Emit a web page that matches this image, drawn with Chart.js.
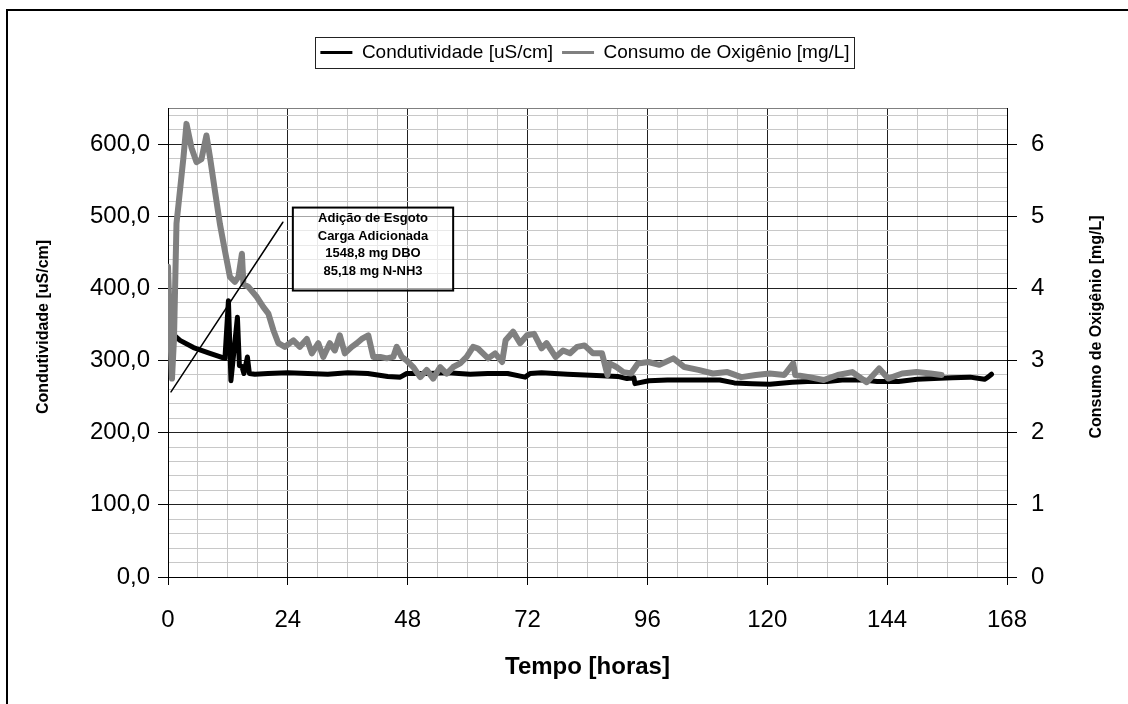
<!DOCTYPE html>
<html>
<head>
<meta charset="utf-8">
<script src="https://cdn.jsdelivr.net/npm/chart.js@4.4.1/dist/chart.umd.min.js"></script>
<style>
  html, body { margin: 0; padding: 0; background: #fff; overflow: hidden; }
  #wrap { width: 1128px; height: 704px; overflow: hidden; }
</style>
</head>
<body>
<div id="wrap"><canvas id="chart" width="1170" height="704"></canvas></div>
<script>
// Condutividade [uS/cm] (left axis)
const condTime = [0.6, 2.4, 5.1, 8.4, 11.4, 12.1, 12.6, 13.9, 14.3, 14.8, 15.2, 15.9, 16.3, 17.4, 20, 24, 28, 32, 36, 40,
  44, 46.5, 47.8, 52, 56, 60.5, 64, 68, 71.5, 72.5, 74.8, 80, 86.9, 90, 91.9, 93.3, 93.5, 96.3, 100, 105,
  110.5, 113.4, 117, 120.5, 125, 128, 132, 135, 139.1, 142, 146.3, 150, 153.4, 157, 160.6, 162.5, 163.5, 164.2, 164.9];
const condValues = [339, 328, 318, 310, 303, 383, 272, 360, 293, 292, 282, 305, 282, 281, 282, 283, 282, 281, 283, 282,
  278, 277, 282, 282, 283, 281, 282, 282, 277, 282, 283, 281, 279, 278, 275, 276, 268, 272, 273, 273,
  273, 269, 268, 267, 270, 271, 271, 273, 273, 271, 271, 274, 275, 276, 277, 275, 274, 277, 281];

// Consumo de Oxigênio [mg/L] (right axis)
const oxyTime = [0, 0.4, 0.8, 1.2, 1.7, 3.1, 3.7, 4.7, 5.7, 6.7, 7.7, 8.4, 9.4, 10.4, 11.4, 12.4, 13.4, 14.1, 14.8, 15.1,
  16.1, 17.8, 19.1, 20.1, 21.1, 22.1, 23.4, 25.1, 26.4, 27.8, 28.8, 30.1, 31.1, 32.4, 33.4, 34.4, 35.4, 36.8, 37.8, 38.8,
  40.1, 41.1, 42.5, 43.8, 45.1, 45.8, 46.8, 47.8, 49.1, 50.5, 51.8, 53.1, 54.5, 55.8, 57.1, 58.5, 59.8, 61.1, 62.0, 64.1,
  65.5, 66.9, 67.6, 69.1, 70.5, 71.9, 73.3, 74.8, 75.8, 77.6, 79.1, 80.5, 81.9, 83.4, 85.1, 86.9, 88.0, 88.4, 89.8, 91.2,
  92.7, 94.1, 96.2, 98.4, 101.2, 103.4, 106.2, 109.1, 112.0, 114.8, 117.7, 120.5, 123.4, 125.2, 125.6, 128.4, 131.3, 134.1, 137.0, 139.9,
  142.4, 144.2, 147.0, 149.9, 152.7, 154.9];
const oxyValues = [4.3, 3.5, 2.75, 3.3, 4.9, 5.82, 6.28, 5.95, 5.75, 5.79, 6.12, 5.82, 5.35, 4.89, 4.52, 4.16, 4.09, 4.16, 4.48, 4.06,
  4.02, 3.88, 3.74, 3.65, 3.42, 3.24, 3.19, 3.28, 3.19, 3.30, 3.10, 3.24, 3.05, 3.24, 3.14, 3.35, 3.10, 3.19, 3.24, 3.30,
  3.35, 3.05, 3.05, 3.03, 3.05, 3.19, 3.05, 3.00, 2.91, 2.77, 2.87, 2.75, 2.91, 2.82, 2.91, 2.96, 3.05, 3.19, 3.17, 3.03,
  3.10, 2.98, 3.28, 3.40, 3.24, 3.35, 3.37, 3.17, 3.24, 3.05, 3.14, 3.10, 3.19, 3.21, 3.10, 3.10, 2.80, 2.96, 2.91, 2.84,
  2.82, 2.96, 2.98, 2.94, 3.03, 2.91, 2.87, 2.82, 2.84, 2.77, 2.80, 2.82, 2.80, 2.96, 2.80, 2.77, 2.73, 2.80, 2.84, 2.70,
  2.89, 2.75, 2.82, 2.84, 2.82, 2.80];

// marker line pointing at the sewage addition
const markerTime = [0.6, 23];
const markerValues = [256.6, 491.7];

const hourTicks = Array.from({ length: 29 }, (_, i) => i * 6);          // labelled every 24 h
const condTicks = Array.from({ length: 33 }, (_, i) => i * 20).concat([650]); // labelled every 100
const oxyTicks = [0, 1, 2, 3, 4, 5, 6];

const noteLines = ['Adição de Esgoto', 'Carga Adicionada', '1548,8 mg DBO', '85,18 mg N-NH3'];
const noteBox = { t0: 25, t1: 57.1, top: 512, bottom: 397 };

const FONT = "'Liberation Sans', Arial, Helvetica, sans-serif";
Chart.defaults.font.family = FONT;
Chart.defaults.color = '#000';

const toPoints = (xs, ys) => xs.map((t, i) => ({ x: t, y: ys[i] }));

const extras = {
  id: 'extras',
  afterDatasetsDraw(chart) {
    const { ctx, scales: { x, y } } = chart;
    const l = x.getPixelForValue(noteBox.t0), r = x.getPixelForValue(noteBox.t1);
    const t = y.getPixelForValue(noteBox.top), b = y.getPixelForValue(noteBox.bottom);
    ctx.save();
    ctx.fillStyle = 'rgba(255,255,255,0.6)';
    ctx.fillRect(l, t, r - l, b - t);
    ctx.lineWidth = 2;
    ctx.strokeStyle = '#000';
    ctx.strokeRect(l, t, r - l, b - t);
    ctx.fillStyle = '#000';
    ctx.font = 'bold 13px ' + FONT;
    ctx.textAlign = 'center';
    ctx.textBaseline = 'middle';
    noteLines.forEach((s, i) => ctx.fillText(s, (l + r) / 2, t + 11 + i * 17.5));
    ctx.restore();
  },
  afterDraw(chart) {
    const { ctx } = chart;
    ctx.save();
    // outer frame
    ctx.strokeStyle = '#000';
    ctx.lineWidth = 2;
    ctx.beginPath();
    ctx.moveTo(7, 710);
    ctx.lineTo(7, 10);
    ctx.lineTo(1180, 10);
    ctx.stroke();

    // legend border
    const hb = chart.legend.legendHitBoxes;
    if (hb.length) {
      const first = hb[0], last = hb[hb.length - 1];
      const lx = Math.round(first.left - 5) + 0.5;
      const rx = Math.round(last.left + last.width + 4) + 0.5;
      const ty = Math.round(first.top - 6) + 0.5;
      const by = Math.round(first.top + first.height + 6) + 0.5;
      ctx.lineWidth = 1;
      ctx.strokeStyle = '#222';
      ctx.strokeRect(lx, ty, rx - lx, by - ty);
    }

    // axis titles, both reading bottom to top
    ctx.fillStyle = '#000';
    ctx.font = 'bold 16px ' + FONT;
    ctx.textAlign = 'center';
    ctx.textBaseline = 'middle';
    [[44, 'Condutividade [uS/cm]'], [1097, 'Consumo de Oxigênio [mg/L]']].forEach(([px, text]) => {
      ctx.save();
      ctx.translate(px, 327);
      ctx.rotate(-Math.PI / 2);
      ctx.fillText(text, 0, 0);
      ctx.restore();
    });
    ctx.restore();
  }
};

new Chart(document.getElementById('chart'), {
  type: 'line',
  data: {
    datasets: [
      {
        label: 'Condutividade [uS/cm]',
        data: toPoints(condTime, condValues),
        yAxisID: 'y',
        borderColor: '#000',
        backgroundColor: '#000',
        borderWidth: 5,
        order: 2
      },
      {
        label: 'Consumo de Oxigênio [mg/L]',
        data: toPoints(oxyTime, oxyValues),
        yAxisID: 'y1',
        borderColor: '#808080',
        backgroundColor: '#808080',
        borderWidth: 6,
        order: 1
      },
      {
        label: 'marker',
        data: toPoints(markerTime, markerValues),
        yAxisID: 'y',
        borderColor: '#000',
        borderWidth: 1.5,
        order: 0
      }
    ]
  },
  options: {
    responsive: false,
    animation: false,
    devicePixelRatio: 1,
    layout: { padding: { top: 34, left: 0, right: 0, bottom: 0 } },
    elements: {
      point: { radius: 0 },
      line: { tension: 0, borderJoinStyle: 'round', borderCapStyle: 'round', fill: false }
    },
    plugins: {
      tooltip: { enabled: false },
      title: {
        display: true,
        text: ' ',
        padding: { top: 10, bottom: 10 },
        font: { size: 16, lineHeight: 1 }
      },
      legend: {
        weight: 3000,
        labels: {
          font: { size: 19 },
          color: '#000',
          usePointStyle: true,
          pointStyle: 'line',
          pointStyleWidth: 32,
          padding: 9,
          filter: item => item.datasetIndex < 2,
          sort: (a, b) => a.datasetIndex - b.datasetIndex,
          generateLabels: chart => Chart.defaults.plugins.legend.labels.generateLabels(chart)
            .map(item => Object.assign(item, { lineWidth: 3 }))
        }
      }
    },
    scales: {
      x: {
        type: 'linear',
        min: 0,
        max: 168,
        afterBuildTicks: axis => { axis.ticks = hourTicks.map(v => ({ value: v })); },
        afterFit: axis => { axis.height = 127; },
        ticks: {
          autoSkip: false,
          maxRotation: 0,
          minRotation: 0,
          padding: 21,
          font: { size: 24 },
          callback: v => (v % 24 === 0 ? String(v) : '')
        },
        grid: {
          color: c => (c.tick && c.tick.value % 24 === 0 ? '#222' : '#c8c8c8'),
          tickColor: c => (c.tick && c.tick.value % 24 === 0 ? '#000' : 'rgba(0,0,0,0)'),
          tickLength: 8,
          lineWidth: 1
        },
        border: { color: '#000', width: 1 },
        title: {
          display: true,
          text: 'Tempo [horas]',
          font: { size: 24, weight: 'bold' },
          padding: { top: 4, bottom: 22 }
        }
      },
      y: {
        position: 'left',
        min: 0,
        max: 650,
        afterBuildTicks: axis => { axis.ticks = condTicks.map(v => ({ value: v })); },
        afterFit: axis => { axis.width = 168; },
        ticks: {
          autoSkip: false,
          padding: 8,
          font: { size: 24 },
          callback: v => (v % 100 === 0 ? v.toFixed(1).replace('.', ',') : '')
        },
        grid: {
          color: c => {
            if (!c.tick) return '#c8c8c8';
            if (c.tick.value === 650) return '#808080';
            return c.tick.value % 100 === 0 ? '#222' : '#c8c8c8';
          },
          tickColor: c => (c.tick && c.tick.value % 100 === 0 ? '#000' : 'rgba(0,0,0,0)'),
          tickLength: 10,
          lineWidth: 1
        },
        border: { color: '#000', width: 1 }
      },
      y1: {
        position: 'right',
        min: 0,
        max: 6.5,
        afterBuildTicks: axis => { axis.ticks = oxyTicks.map(v => ({ value: v })); },
        afterFit: axis => { axis.width = 163; },
        ticks: {
          autoSkip: false,
          padding: 14,
          font: { size: 24 },
          callback: v => String(v)
        },
        grid: {
          drawOnChartArea: false,
          color: '#000',
          tickColor: '#000',
          tickLength: 10
        },
        border: { color: '#000', width: 1 }
      }
    }
  },
  plugins: [extras]
});
</script>
</body>
</html>
